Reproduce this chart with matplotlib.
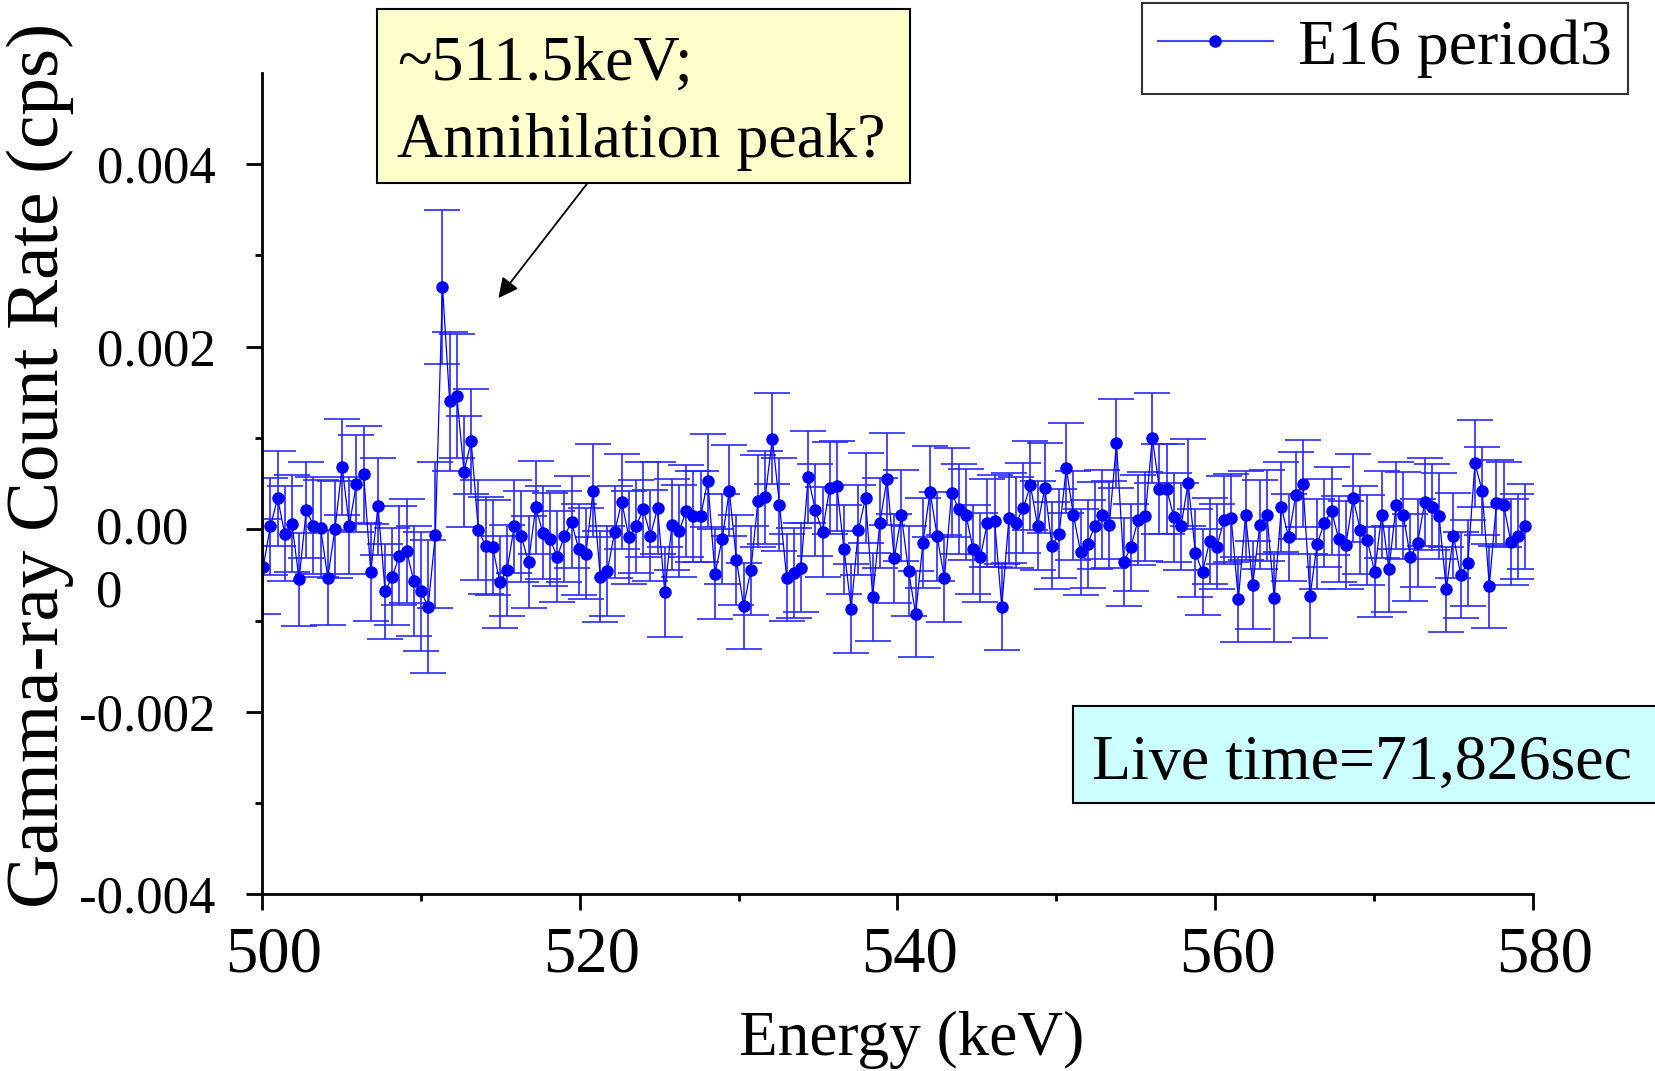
import numpy as np
import matplotlib
matplotlib.use("Agg")
import matplotlib.pyplot as plt
import matplotlib.transforms as mtransforms
from matplotlib.lines import Line2D
from matplotlib.patches import Rectangle

plt.rcParams['font.family'] = ['Liberation Serif', 'DejaVu Serif']

# spectrum bins (keV)
e_start = 500.08
bin_width = 0.4513

# count rate (cps)
rate = [
    -0.00041, 0.00003, 0.00034, -0.00005, 0.00006, -0.00055, 0.00021, 0.00004, 0.00001, -0.00053,
    0.00000, 0.00068, 0.00004, 0.00050, 0.00060, -0.00047, 0.00025, -0.00068, -0.00052, -0.00029,
    -0.00024, -0.00057, -0.00068, -0.00085, -0.00006, 0.00265, 0.00140, 0.00146, 0.00063, 0.00096,
    -0.00001, -0.00018, -0.00020, -0.00058, -0.00045, 0.00003, -0.00008, -0.00036, 0.00024, -0.00004,
    -0.00011, -0.00030, -0.00008, 0.00008, -0.00022, -0.00027, 0.00042, -0.00052, -0.00046, -0.00003,
    0.00030, -0.00009, 0.00003, 0.00022, -0.00007, 0.00023, -0.00069, 0.00005, -0.00002, 0.00020,
    0.00014, 0.00014, 0.00053, -0.00049, -0.00011, 0.00042, -0.00034, -0.00084, -0.00045, 0.00031,
    0.00035, 0.00099, 0.00027, -0.00053, -0.00048, -0.00042, 0.00057, 0.00021, -0.00003, 0.00045,
    0.00047, -0.00022, -0.00087, -0.00001, 0.00034, -0.00074, 0.00007, 0.00055, -0.00032, 0.00015,
    -0.00046, -0.00093, -0.00015, 0.00041, -0.00008, -0.00054, 0.00040, 0.00022, 0.00016, -0.00022,
    -0.00031, 0.00007, 0.00009, -0.00085, 0.00012, 0.00007, 0.00023, 0.00048, 0.00004, 0.00045,
    -0.00018, -0.00005, 0.00067, 0.00015, -0.00025, -0.00016, 0.00004, 0.00016, 0.00005, 0.00094,
    -0.00036, -0.00020, 0.00010, 0.00014, 0.00100, 0.00044, 0.00044, 0.00013, 0.00003, 0.00051,
    -0.00026, -0.00047, -0.00013, -0.00019, 0.00010, 0.00012, -0.00077, 0.00015, -0.00061, 0.00005,
    0.00015, -0.00075, 0.00024, -0.00009, 0.00037, 0.00050, -0.00073, -0.00016, 0.00007, 0.00020,
    -0.00011, -0.00017, 0.00034, -0.00001, -0.00012, -0.00047, 0.00016, -0.00044, 0.00026, 0.00015,
    -0.00031, -0.00015, 0.00030, 0.00024, 0.00014, -0.00066, -0.00007, -0.00050, -0.00037, 0.00072,
    0.00042, -0.00062, 0.00029, 0.00027, -0.00014, -0.00008, 0.00003,
]

# 1-sigma errors (cps)
err = [
    0.00052, 0.00053, 0.00052, 0.00052, 0.00053, 0.00051, 0.00053, 0.00053, 0.00053, 0.00052,
    0.00053, 0.00053, 0.00053, 0.00053, 0.00053, 0.00053, 0.00053, 0.00052, 0.00053, 0.00054,
    0.00057, 0.00060, 0.00065, 0.00073, 0.00080, 0.00084, 0.00076, 0.00068, 0.00061, 0.00058,
    0.00055, 0.00053, 0.00052, 0.00050, 0.00050, 0.00051, 0.00050, 0.00050, 0.00051, 0.00051,
    0.00051, 0.00050, 0.00050, 0.00050, 0.00050, 0.00050, 0.00051, 0.00050, 0.00049, 0.00050,
    0.00052, 0.00051, 0.00051, 0.00052, 0.00050, 0.00050, 0.00049, 0.00050, 0.00050, 0.00050,
    0.00050, 0.00050, 0.00051, 0.00049, 0.00049, 0.00050, 0.00049, 0.00047, 0.00049, 0.00050,
    0.00051, 0.00050, 0.00051, 0.00048, 0.00049, 0.00049, 0.00050, 0.00050, 0.00049, 0.00050,
    0.00049, 0.00049, 0.00049, 0.00049, 0.00049, 0.00048, 0.00049, 0.00050, 0.00049, 0.00050,
    0.00049, 0.00047, 0.00049, 0.00050, 0.00049, 0.00048, 0.00049, 0.00049, 0.00050, 0.00049,
    0.00049, 0.00048, 0.00050, 0.00047, 0.00049, 0.00050, 0.00049, 0.00049, 0.00049, 0.00049,
    0.00048, 0.00049, 0.00049, 0.00049, 0.00047, 0.00048, 0.00048, 0.00049, 0.00048, 0.00049,
    0.00048, 0.00048, 0.00049, 0.00049, 0.00049, 0.00049, 0.00049, 0.00049, 0.00048, 0.00048,
    0.00048, 0.00047, 0.00047, 0.00047, 0.00048, 0.00048, 0.00047, 0.00049, 0.00048, 0.00049,
    0.00050, 0.00048, 0.00049, 0.00048, 0.00048, 0.00048, 0.00046, 0.00049, 0.00048, 0.00048,
    0.00047, 0.00048, 0.00048, 0.00048, 0.00049, 0.00049, 0.00048, 0.00047, 0.00048, 0.00048,
    0.00048, 0.00048, 0.00048, 0.00047, 0.00047, 0.00047, 0.00047, 0.00047, 0.00047, 0.00048,
    0.00048, 0.00046, 0.00047, 0.00047, 0.00047, 0.00047, 0.00047,
]

energy = e_start + bin_width * np.arange(len(rate))

series_label = "E16 period3"
peak_note = ["~511.5keV;", "Annihilation peak?"]
live_note = "Live time=71,826sec"

fig = plt.figure(figsize=(16.56, 10.71), dpi=100)
ax = fig.add_axes([0.1582, 0.1648, 0.7675, 0.7675])

ax.errorbar(energy, rate, yerr=err, fmt='-o', color='blue', ms=8, lw=0.9,
            ecolor='#2a2aff', elinewidth=1.2, capsize=13, capthick=1.2)

ax.set_xlim(500, 580)
ax.set_ylim(-0.004, 0.005)
ax.set_xticks([500, 520, 540, 560, 580])
ax.set_xticks([510, 530, 550, 570], minor=True)
ax.set_yticks([-0.004, -0.002, 0.0, 0.002, 0.004])
ax.set_yticks([-0.003, -0.001, 0.001, 0.003], minor=True)
ax.set_yticklabels(['-0.004', '-0.002', '', '0.002', '0.004'])
ax.tick_params(axis='y', which='major', labelsize=38, pad=22)
ax.tick_params(axis='x', which='major', labelsize=46.5, pad=11)
ax.tick_params(which='major', direction='out', length=11.5, width=2)
ax.tick_params(which='minor', direction='out', length=5.3, width=2)

# x labels sit a little to the right of their ticks in the original
shift = mtransforms.ScaledTranslation(0.12, 0, fig.dpi_scale_trans)
for lab in ax.get_xticklabels():
    lab.set_transform(lab.get_transform() + shift)

for s in ['top', 'right']:
    ax.spines[s].set_visible(False)
for s in ['left', 'bottom']:
    ax.spines[s].set_linewidth(2)

# the zero label is wrapped onto two lines in the original
fig.text(0.058, 0.4927, "0.00", fontsize=38, ha='left', va='baseline')
fig.text(0.058, 0.4335, "0", fontsize=38, ha='left', va='baseline')

fig.text(0.5507, 0.029, "Energy (keV)", fontsize=45.5, ha='center', va='center')
fig.text(0.0242, 0.565, "Gamma-ray Count Rate (cps)", fontsize=54, rotation=90,
         ha='center', va='center')

# legend
handle = Line2D([], [], color='#4444ff', lw=1.5, marker='o', ms=8,
                markerfacecolor='blue', markeredgecolor='blue')
leg = fig.legend([handle], [series_label], loc='upper right',
                 bbox_to_anchor=(1628 / 1656, 1 - 3 / 1071), fontsize=46,
                 frameon=True, fancybox=False, edgecolor='black',
                 handlelength=1.8, handletextpad=0.4, borderpad=0.25,
                 borderaxespad=0)
leg.get_frame().set_linewidth(1.5)

# annotation box
fig.patches.append(Rectangle((0.2277, 0.8294), 0.3219, 0.1625, transform=fig.transFigure,
                             facecolor='#ffffcc', edgecolor='black', lw=1.5))
fig.text(0.2397, 0.9253, peak_note[0], fontsize=46, ha='left', va='baseline')
fig.text(0.2397, 0.8537, peak_note[1], fontsize=46, ha='left', va='baseline')
ax.annotate('', xy=(514.88, 0.00253), xycoords='data',
            xytext=(588, 1071 - 182.5), textcoords='figure pixels',
            arrowprops=dict(arrowstyle='-|>', color='black', lw=1.3,
                            mutation_scale=30, shrinkA=0, shrinkB=0))

# live time box
fig.patches.append(Rectangle((0.648, 0.2502), 0.36, 0.0906, transform=fig.transFigure,
                             facecolor='#ccffff', edgecolor='black', lw=1.5))
fig.text(0.6594, 0.2733, live_note, fontsize=46, ha='left', va='baseline')

fig.savefig('out.png', dpi=100)
